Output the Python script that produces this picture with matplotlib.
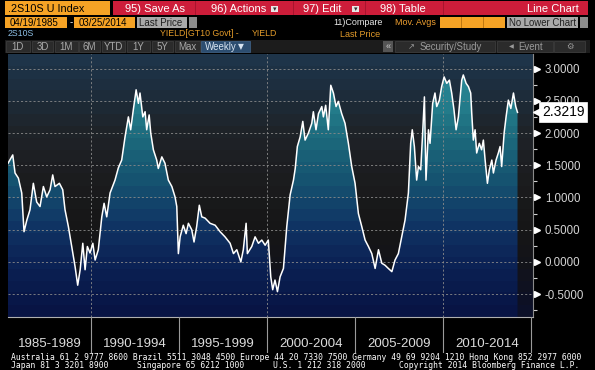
import numpy as np
import matplotlib
matplotlib.use("Agg")
import matplotlib.pyplot as plt
from matplotlib.patches import Rectangle, Polygon
from matplotlib.colors import LinearSegmentedColormap
from matplotlib.ticker import MultipleLocator, FormatStrFormatter, FixedLocator
from matplotlib.transforms import blended_transform_factory

W, H = 595, 370

# 2s10s spread (10y - 2y yield, %) (decimal year, value)
years = [1985.28, 1985.55, 1985.68, 1985.87, 1986.06, 1986.19, 1986.35, 1986.53, 1986.72, 1986.91,
         1987.10, 1987.29, 1987.48, 1987.67, 1987.82, 1987.95, 1988.20, 1988.39, 1988.52, 1988.71,
         1988.90, 1989.09, 1989.24, 1989.38, 1989.53, 1989.66, 1989.79, 1989.94, 1990.10, 1990.23,
         1990.41, 1990.61, 1990.74, 1990.89, 1991.08, 1991.36, 1991.55, 1991.74, 1991.93, 1992.12,
         1992.25, 1992.40, 1992.56, 1992.69, 1992.78, 1992.94, 1993.07, 1993.16, 1993.30, 1993.39,
         1993.54, 1993.73, 1993.82, 1994.02, 1994.20, 1994.39, 1994.59, 1994.77, 1994.87, 1994.96,
         1995.06, 1995.24, 1995.40, 1995.53, 1995.72, 1995.85, 1996.00, 1996.15, 1996.29, 1996.48,
         1996.76, 1997.05, 1997.33, 1997.61, 1997.90, 1998.09, 1998.28, 1998.51, 1998.65, 1998.81,
         1998.88, 1999.13, 1999.32, 1999.51, 1999.70, 1999.89, 2000.07, 2000.21, 2000.32, 2000.45,
         2000.59, 2000.74, 2000.93, 2001.12, 2001.31, 2001.50, 2001.60, 2001.72, 2001.88, 2002.03,
         2002.16, 2002.35, 2002.54, 2002.63, 2002.78, 2002.92, 2003.11, 2003.20, 2003.33, 2003.48,
         2003.62, 2003.77, 2003.92, 2004.05, 2004.24, 2004.43, 2004.62, 2004.81, 2005.00, 2005.19,
         2005.38, 2005.57, 2005.76, 2005.95, 2006.14, 2006.33, 2006.52, 2006.70, 2006.89, 2007.09,
         2007.27, 2007.46, 2007.65, 2007.84, 2008.03, 2008.16, 2008.25, 2008.37, 2008.50, 2008.60,
         2008.73, 2008.84, 2008.94, 2009.03, 2009.17, 2009.26, 2009.41, 2009.54, 2009.64, 2009.79,
         2009.92, 2010.06, 2010.21, 2010.36, 2010.49, 2010.62, 2010.74, 2010.87, 2011.06, 2011.15,
         2011.31, 2011.44, 2011.57, 2011.63, 2011.72, 2011.82, 2011.91, 2012.06, 2012.19, 2012.29,
         2012.39, 2012.52, 2012.63, 2012.77, 2012.86, 2013.01, 2013.14, 2013.24, 2013.33, 2013.47,
         2013.58, 2013.71, 2013.85, 2014.00, 2014.13, 2014.23]
values = [1.53, 1.66, 1.38, 1.30, 1.07, 0.47, 0.65, 0.81, 1.22, 0.93,
          0.86, 1.17, 1.01, 1.12, 1.35, 1.17, 1.22, 1.12, 0.81, 0.55,
          0.24, -0.07, -0.36, -0.12, 0.29, -0.12, 0.24, 0.14, 0.29, 0.03,
          0.19, 0.70, 0.91, 0.70, 1.07, 1.27, 1.46, 1.58, 1.94, 2.25,
          2.05, 2.36, 2.67, 2.46, 2.62, 2.25, 2.33, 2.05, 2.28, 2.00,
          1.74, 1.58, 1.45, 1.63, 1.53, 1.27, 1.17, 1.01, 0.86, 0.13,
          0.39, 0.57, 0.44, 0.60, 0.50, 0.31, 0.55, 0.88, 0.70, 0.68,
          0.60, 0.57, 0.47, 0.39, 0.29, 0.13, 0.19, 0.00, 0.19, 0.60,
          0.13, 0.24, 0.39, 0.29, 0.34, 0.26, 0.34, -0.23, -0.43, -0.28,
          -0.46, -0.23, -0.10, 0.55, 1.04, 1.27, 1.45, 1.79, 1.94, 2.18,
          1.89, 2.00, 2.15, 2.33, 2.05, 2.30, 2.41, 2.25, 2.43, 2.05,
          2.74, 2.62, 2.41, 2.49, 2.30, 2.15, 1.84, 1.48, 1.22, 0.75,
          0.55, 0.34, 0.24, 0.13, -0.10, 0.19, -0.02, -0.05, -0.10, -0.15,
          0.03, 0.13, 0.39, 0.65, 1.07, 1.84, 2.05, 1.79, 1.27, 1.48,
          1.43, 2.00, 2.56, 1.27, 2.05, 1.84, 2.46, 2.62, 2.41, 2.51,
          2.72, 2.87, 2.77, 2.82, 2.62, 2.36, 2.05, 2.25, 2.82, 2.90,
          2.77, 2.72, 2.62, 2.30, 1.89, 2.05, 1.69, 1.84, 1.74, 1.89,
          1.58, 1.22, 1.43, 1.58, 1.38, 1.58, 1.69, 1.79, 1.48, 2.00,
          2.25, 2.51, 2.38, 2.62, 2.41, 2.32]
last_value = 2.3219

period_labels = ["1985-1989", "1990-1994", "1995-1999", "2000-2004", "2005-2009", "2010-2014"]
period_edges = [1990, 1995, 2000, 2005, 2010, 2015]
ytick_vals = [-0.5, 0.0, 0.5, 1.0, 1.5, 2.0, 2.5, 3.0]

SANS = ['Liberation Sans', 'DejaVu Sans']
SYM = ['DejaVu Sans']
MONO = ['DejaVu Sans Mono']

fig = plt.figure(figsize=(W / 100, H / 100), dpi=100, facecolor='black')


def px_rect(x0, y0, x1, y1, fc, ec='none', lw=0.6, z=1):
    fig.add_artist(Rectangle((x0 / W, 1 - y1 / H), (x1 - x0) / W, (y1 - y0) / H,
                             transform=fig.transFigure, facecolor=fc, edgecolor=ec,
                             linewidth=lw, zorder=z))


def px_text(x, y, s, color='white', size=8, ha='left', family=SANS, z=3):
    fig.text(x / W, 1 - y / H, s, color=color, fontsize=size, ha=ha, va='center',
             family=family, zorder=z)


# ---- header (terminal bars) ----
ORANGE = '#f6a325'
RED = '#cd1d3a'
GRAY = '#a9a9a9'

px_rect(5, 1, 110, 15, ORANGE)
px_text(8, 8.5, '.2S10S U Index', 'black', 7.8)
px_rect(113, 1, 588, 15, RED)
for xd in [195, 293, 365, 443]:
    px_rect(xd, 1, xd + 1, 15, '#a8142e', z=2)
px_text(125, 8.5, '95) Save As', 'white', 8)
px_text(211, 8.5, '96) Actions', 'white', 8)
px_rect(271, 6, 278, 12, '#e8e8e8', z=2)
px_text(274.5, 9, '\u25be', '#303030', 5, ha='center', family=SYM)
px_text(303, 8.5, '97) Edit', 'white', 8)
px_rect(352, 6, 359, 12, '#e8e8e8', z=2)
px_text(355.5, 9, '\u25be', '#303030', 5, ha='center', family=SYM)
px_text(380, 8.5, '98) Table', 'white', 8)
px_text(579, 8.5, 'Line Chart', 'white', 8, ha='right')

px_rect(5, 17, 67, 28, ORANGE)
px_text(10, 22.5, '04/19/1985', 'black', 7)
px_text(70, 22.5, '-', 'white', 7)
px_rect(74, 17, 135, 28, ORANGE)
px_text(79, 22.5, '03/25/2014', 'black', 7)
px_rect(137, 17, 187, 28, GRAY)
px_text(139, 22.5, 'Last Price', '#202020', 7)
px_rect(189, 17, 197, 28, '#8c8c8c')
px_text(333, 22.5, '11)Compare', '#e8e8e8', 6.5)
px_text(395, 22.5, 'Mov. Avgs', '#f0a030', 6.5)
px_rect(440, 17, 505, 28, ORANGE)
for xd in [461, 483]:
    px_rect(xd, 17, xd + 1, 28, '#c07810', z=2)
px_rect(507, 17, 578, 28, GRAY)
px_text(509, 22.5, 'No Lower Chart', '#202020', 6.9)
px_rect(580, 17, 588, 28, '#8c8c8c')

px_text(8, 33.5, '2S10S', '#8ec0e6', 6.3)
px_text(160, 33.5, 'YIELD[GT10 Govt] -', '#e39b2a', 6.3)
px_text(252, 33.5, 'YIELD', '#e39b2a', 6.3)
px_text(340, 34.5, 'Last Price', '#e39b2a', 6.5)

px_rect(5, 40, 590, 53, '#1c1c1c')
buttons = [(6, 30, '1D'), (32, 53, '3D'), (55, 78, '1M'), (79, 100, '6M'), (102, 125, 'YTD'),
           (127, 150, '1Y'), (152, 173, '5Y'), (175, 200, 'Max')]
for x0, x1, s in buttons:
    px_rect(x0, 41, x1, 52, '#2b2b2b', '#3c3c3c')
    px_text((x0 + x1) / 2, 46.5, s, '#a8a8a8', 7, ha='center')
px_rect(201, 41, 250, 52, '#2c4d70', '#3c5d80')
px_text(205, 46.5, 'Weekly', '#d8e4f0', 7)
px_text(241, 46.5, '\u25bc', '#d8e4f0', 5.5, ha='center', family=SYM)
px_rect(383, 41, 393, 52, '#555555')
px_text(388, 46.5, '\u00ab', '#cccccc', 6.5, ha='center')
px_rect(395, 41, 495, 52, '#2b2b2b', '#3c3c3c')
px_text(411, 46.5, '\u2197', '#9a9a9a', 6, ha='center', family=SYM)
px_text(420, 46.5, 'Security/Study', '#9a9a9a', 6.9)
px_rect(497, 41, 553, 52, '#2b2b2b', '#3c3c3c')
px_text(511, 46.5, '\u25c0', '#9a9a9a', 4.5, ha='center', family=SYM)
px_text(518, 46.5, 'Event', '#9a9a9a', 6.9)
px_rect(554, 41, 585, 52, '#2b2b2b', '#3c3c3c')
px_text(570, 46.5, '\u2699', '#9a9a9a', 6, ha='center', family=SYM)

# ---- main chart ----
x_left, x_right = 8, 533
y_top, y_bot = 54, 317
ax = fig.add_axes([x_left / W, 1 - y_bot / H, (x_right - x_left) / W, (y_bot - y_top) / H])
ax.set_facecolor('black')
xlo, xhi = 1985.28, 2015.11
ylo, yhi = -0.853, 3.225
ax.set_xlim(xlo, xhi)
ax.set_ylim(ylo, yhi)

bg_cmap = LinearSegmentedColormap.from_list(
    'bg', [(0.0, '#0c1028'), (0.2, '#131419'), (0.35, '#171717'), (0.55, '#1c1d20'),
           (0.72, '#1f2429'), (0.85, '#1d2c3a'), (1.0, '#1e3449')], N=22)
fill_cmap = LinearSegmentedColormap.from_list(
    'fill', [(0.0, '#081444'), (0.2, '#0c2356'), (0.35, '#103665'), (0.5, '#15506f'),
           (0.65, '#1b6479'), (0.8, '#237a89'), (1.0, '#2c909e')], N=22)

grad = np.linspace(0, 1, 256).reshape(-1, 1)
ax.imshow(grad, extent=[xlo, xhi, ylo, yhi], origin='lower', aspect='auto',
          cmap=bg_cmap, zorder=0, interpolation='nearest')
im = ax.imshow(grad, extent=[xlo, xhi, ylo, yhi], origin='lower', aspect='auto',
               cmap=fill_cmap, zorder=1, interpolation='nearest')
verts = np.column_stack([np.r_[years[0], years, years[-1]], np.r_[ylo, values, ylo]])
clip = Polygon(verts, closed=True, facecolor='none', edgecolor='none', transform=ax.transData)
ax.add_patch(clip)
im.set_clip_path(clip)

for yv in ytick_vals:
    ax.axhline(yv, color='#8a8a8a', lw=0.6, ls=(0, (2.5, 2.5)), zorder=2)
for xv in [1990, 2000, 2010]:
    ax.axvline(xv, color='#8a8a8a', lw=0.6, ls=(0, (2.5, 2.5)), zorder=2)

ax.plot(years, values, color='white', lw=1.1, zorder=3)

ax.set_xticks([])
ax.yaxis.tick_right()
ax.yaxis.set_major_locator(FixedLocator(ytick_vals))
ax.yaxis.set_minor_locator(MultipleLocator(0.25))
ax.yaxis.set_major_formatter(FormatStrFormatter('%.4f'))
ax.tick_params(axis='y', which='major', length=0, pad=8.5, labelsize=8.3, labelcolor='#d4d4d4')
ax.tick_params(axis='y', which='minor', length=3, width=0.8, color='#d0d0d0', direction='out')
for lab in ax.get_yticklabels():
    lab.set_family(SANS)
for s in ['left', 'top']:
    ax.spines[s].set_visible(False)
ax.spines['right'].set_color('#8a8a8a')
ax.spines['right'].set_linewidth(0.8)
ax.spines['bottom'].set_color('#b0b0b0')
ax.spines['bottom'].set_linewidth(0.8)

tr = blended_transform_factory(ax.transAxes, ax.transData)
ax.plot([1.0 + 4 / 525] * len(ytick_vals), ytick_vals, transform=tr, ls='none',
        marker='>', ms=4, color='white', clip_on=False, zorder=5)

ax.plot([1.0 + 5 / 525], [last_value], transform=tr, marker='<', ms=7, color='white',
        clip_on=False, zorder=11)
ax.text(1.0 + 9 / 525, last_value, f'{last_value:.4f}', transform=tr, ha='left', va='center',
        fontsize=10, color='black', family=SANS, zorder=12, clip_on=False,
        bbox=dict(boxstyle='square,pad=0.2', fc='white', ec='white', lw=0.5))

# ---- period band ----
axb = fig.add_axes([x_left / W, 1 - 353 / H, (x_right - x_left) / W, (353 - y_bot) / H])
axb.set_xlim(xlo, xhi)
axb.set_ylim(0, 1)
axb.axis('off')
for xe in period_edges:
    axb.plot([xe, xe], [0, 1], color='#9a9a9a', lw=0.8)
starts = [xlo] + period_edges[:-1]
for s0, s1, lab in zip(starts, period_edges, period_labels):
    axb.text((s0 + s1) / 2, 0.25, lab, ha='center', va='center', color='#dcdcdc',
             fontsize=9.5, family=SANS)

# ---- footer ----
px_text(11, 357.5, 'Australia 61 2 9777 8600 Brazil 5511 3048 4500 Europe 44 20 7330 7500 '
        'Germany 49 69 9204 1210 Hong Kong 852 2977 6000', 'white', 5.8, family=MONO)
px_text(11, 366, 'Japan 81 3 3201 8900', 'white', 5.8, family=MONO)
px_text(137, 366, 'Singapore 65 6212 1000', 'white', 5.8, family=MONO)
px_text(273, 366, 'U.S. 1 212 318 2000', 'white', 5.8, family=MONO)
px_text(579, 366, 'Copyright 2014 Bloomberg Finance L.P.', 'white', 5.8, ha='right', family=MONO)

fig.savefig('out.png', dpi=100, facecolor='black')
